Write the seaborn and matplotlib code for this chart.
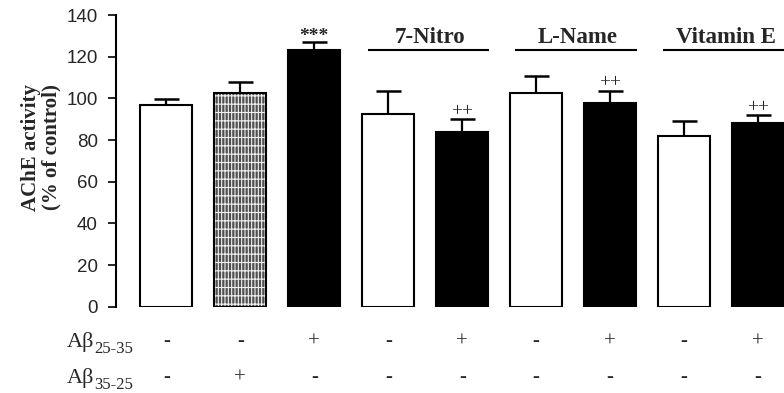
import matplotlib
matplotlib.use("Agg")
import matplotlib.pyplot as plt
import matplotlib.transforms as mtransforms
from matplotlib.patches import Rectangle
import seaborn as sns
import pandas as pd

# ---- data ----
categories = ["Control", "Ab35-25", "Ab25-35", "7-Nitro", "7-Nitro+Ab",
              "L-Name", "L-Name+Ab", "Vitamin E", "Vitamin E+Ab"]
values = [96.8, 102.4, 123.2, 92.5, 84.0, 102.4, 97.6, 82.1, 88.0]
errors = [3.0, 5.6, 4.0, 11.2, 6.1, 8.3, 6.1, 7.2, 4.0]
significance = ["", "", "***", "", "++", "", "++", "", "++"]
ab_25_35 = ["-", "-", "+", "-", "+", "-", "+", "-", "+"]
ab_35_25 = ["-", "+", "-", "-", "-", "-", "-", "-", "-"]
group_names = ["7-Nitro", "L-Name", "Vitamin E"]
group_pairs = [(3, 4), (5, 6), (7, 8)]
bar_colors = ["white", "#505050", "black", "white", "black",
              "white", "black", "white", "black"]
yticks = [0, 20, 40, 60, 80, 100, 120, 140]

df = pd.DataFrame({"cat": categories, "val": values})

sns.set_style("white")
plt.rcParams["font.family"] = ["Liberation Sans", "DejaVu Sans"]
plt.rcParams["hatch.linewidth"] = 0.8

fig = plt.figure(figsize=(7.84, 3.93), dpi=100)
ax = fig.add_axes([116 / 784, 86.3 / 393, 1 - 116 / 784, 291.7 / 393])

sns.barplot(data=df, x="cat", y="val", hue="cat", order=categories,
            hue_order=categories, palette=bar_colors, legend=False,
            width=0.7, edgecolor="black", linewidth=1.5, ax=ax,
            saturation=1, errorbar=None)

# hatched bar (Abeta 35-25)
p = ax.patches[1]
p.set_edgecolor("#f0f0f0")
p.set_hatch("|||||--")
p.set_linewidth(0)
ax.add_patch(Rectangle((p.get_x(), p.get_y()), p.get_width(), p.get_height(),
                       fill=False, edgecolor="black", linewidth=1.5,
                       zorder=p.get_zorder() + 0.1))

xs = list(range(len(categories)))
_, caplines, _ = ax.errorbar(xs, values, yerr=[[0] * len(values), errors],
                             fmt="none", ecolor="black", elinewidth=1.6,
                             capsize=9, capthick=1.8, zorder=5)
caplines[0].remove()  # no cap at bar top

serif = ["Liberation Serif", "DejaVu Serif"]
for x, v, e, s in zip(xs, values, errors, significance):
    if s:
        if "*" in s:
            ax.text(x, v + e + 0.3, s, ha="center", va="baseline",
                    fontsize=14, fontweight="bold", family=serif)
        else:
            ax.text(x, v + e + 1.6, s, ha="center", va="baseline",
                    fontsize=14, family=serif)

for name, (a, b) in zip(group_names, group_pairs):
    c = (a + b) / 2
    ax.plot([c - 0.78, c + 0.86], [123.2, 123.2], color="black", lw=1.5,
            clip_on=False, solid_capstyle="butt")
    ax.text(c + 0.06, 126.6, name, ha="center", va="baseline", fontsize=16.5,
            fontweight="bold", family=serif, clip_on=False)

ax.set_xlim(-0.68, 8.35)
ax.set_ylim(0, 140)
ax.set_yticks(yticks)
ax.set_xticks([])
ax.set_xlabel("")
ax.set_ylabel("AChE activity\n(% of control)", fontsize=15, fontweight="bold",
              family=serif, linespacing=1.05)
ax.yaxis.set_label_coords(-0.081, 0.547)
ax.tick_params(axis="y", direction="out", length=6, width=1.2, pad=7,
               labelsize=13.5, left=True, color="black")
for sp in ["top", "right", "bottom"]:
    ax.spines[sp].set_visible(False)
ax.spines["left"].set_linewidth(1.5)
ax.spines["left"].set_color("black")

# bottom table
trans = mtransforms.blended_transform_factory(ax.transData, fig.transFigure)
row_y = [1 - 342 / 393, 1 - 378 / 393]
for ry, signs in zip(row_y, [ab_25_35, ab_35_25]):
    for x, s in zip(xs, signs):
        ax.text(x, ry, s, transform=trans, ha="center", va="center",
                fontsize=15, family=serif, clip_on=False)

labels_sub = ["25-35", "35-25"]
base_main = [1 - 347 / 393, 1 - 383 / 393]
for bm, sub in zip(base_main, labels_sub):
    fig.text(67 / 784, bm, "Aβ", ha="left", va="baseline", fontsize=16,
             family=serif)
    fig.text(94 / 784, bm - 6 / 393, sub, ha="left", va="baseline",
             fontsize=12, family=serif)

fig.savefig("out.png", dpi=100)
